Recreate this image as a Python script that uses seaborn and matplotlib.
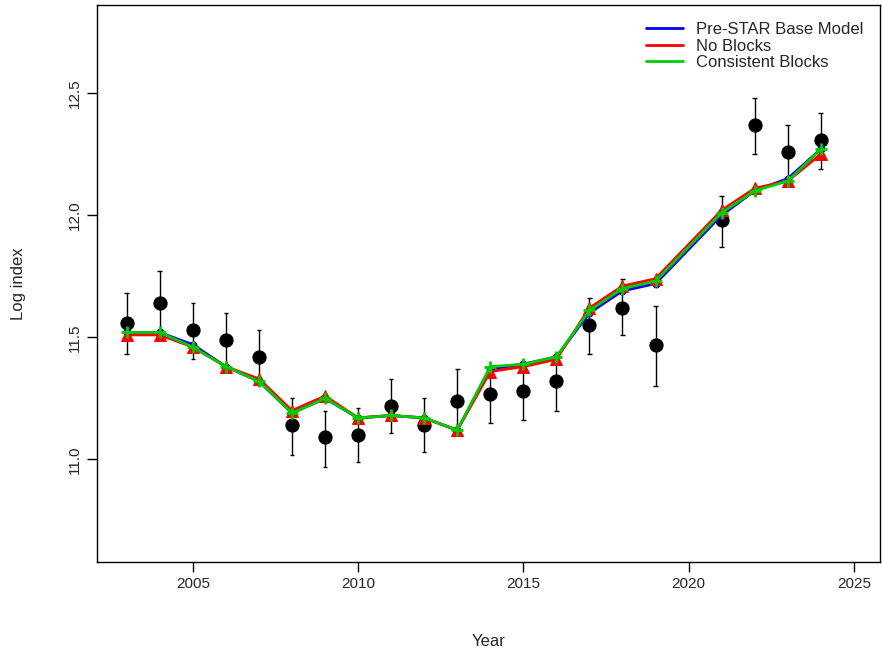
import matplotlib
matplotlib.use("Agg")
import matplotlib.pyplot as plt
import seaborn as sns
import pandas as pd

years = [2003,2004,2005,2006,2007,2008,2009,2010,2011,2012,2013,2014,2015,2016,2017,2018,2019,2021,2022,2023,2024]
obs = [11.56,11.64,11.53,11.49,11.42,11.14,11.09,11.10,11.22,11.14,11.24,11.27,11.28,11.32,11.55,11.62,11.47,11.98,12.37,12.26,12.31]
obs_hi = [11.68,11.77,11.64,11.60,11.53,11.25,11.20,11.21,11.33,11.25,11.37,11.38,11.39,11.43,11.66,11.74,11.63,12.08,12.48,12.37,12.42]
obs_lo = [11.43,11.51,11.41,11.37,11.31,11.02,10.97,10.99,11.11,11.03,11.10,11.15,11.16,11.20,11.43,11.51,11.30,11.87,12.25,12.15,12.19]
pre_star = [11.52,11.52,11.47,11.38,11.32,11.19,11.25,11.17,11.18,11.17,11.12,11.37,11.39,11.42,11.60,11.69,11.72,12.00,12.10,12.15,12.27]
no_blocks = [11.51,11.51,11.46,11.38,11.33,11.20,11.26,11.17,11.18,11.17,11.12,11.36,11.38,11.41,11.62,11.71,11.74,12.02,12.11,12.14,12.25]
consistent = [11.52,11.52,11.46,11.38,11.32,11.19,11.25,11.17,11.18,11.17,11.12,11.38,11.39,11.42,11.61,11.70,11.73,12.01,12.10,12.14,12.27]

sns.set_style("white")
plt.rcParams['font.family'] = ['Liberation Sans', 'DejaVu Sans']
fig, ax = plt.subplots(figsize=(8.82, 6.52), dpi=100)
fig.subplots_adjust(left=0.11, right=0.998, top=0.992, bottom=0.138)

df = pd.DataFrame({"Year": years, "obs": obs, "lo": obs_lo, "hi": obs_hi,
                   "pre": pre_star, "nob": no_blocks, "con": consistent})
ax.vlines(df["Year"], df["lo"], df["hi"], color="black", lw=1)
ax.hlines(df["lo"], df["Year"]-0.07, df["Year"]+0.07, color="black", lw=1)
ax.hlines(df["hi"], df["Year"]-0.07, df["Year"]+0.07, color="black", lw=1)
sns.scatterplot(data=df, x="Year", y="obs", color="black", s=90, edgecolor="black", ax=ax, zorder=2)
sns.lineplot(data=df, x="Year", y="pre", color="#0000FF", lw=2, marker="o", markersize=5,
             markeredgecolor="#0000FF", label="Pre-STAR Base Model", ax=ax, zorder=3)
sns.lineplot(data=df, x="Year", y="nob", color="#FF0000", lw=2, marker="^", markersize=8,
             markeredgecolor="#FF0000", label="No Blocks", ax=ax, zorder=4)
sns.lineplot(data=df, x="Year", y="con", color="#00CC00", lw=2, marker="+", markersize=9,
             markeredgewidth=2, markeredgecolor="#00CC00", label="Consistent Blocks", ax=ax, zorder=5)

ax.set_xlim(2002.1, 2025.8)
ax.set_ylim(10.58, 12.86)
ax.set_xticks([2005, 2010, 2015, 2020, 2025])
ax.set_yticks([11.0, 11.5, 12.0, 12.5])
ax.set_yticklabels(["11.0", "11.5", "12.0", "12.5"], rotation=90, va="center")
ax.tick_params(axis="both", direction="out", length=7, width=1, color="black",
               labelsize=11, left=True, bottom=True, pad=4)
ax.set_xlabel("Year", fontsize=12, labelpad=31)
ax.set_ylabel("Log index", fontsize=12, labelpad=30)
for s in ax.spines.values():
    s.set_color("black"); s.set_linewidth(1)
leg = ax.legend(loc="upper right", frameon=False, fontsize=12, handlelength=2.2,
                borderaxespad=0.6, labelspacing=0.1)
for h in leg.get_lines():
    h.set_marker("")
fig.savefig("out.png", dpi=100)
